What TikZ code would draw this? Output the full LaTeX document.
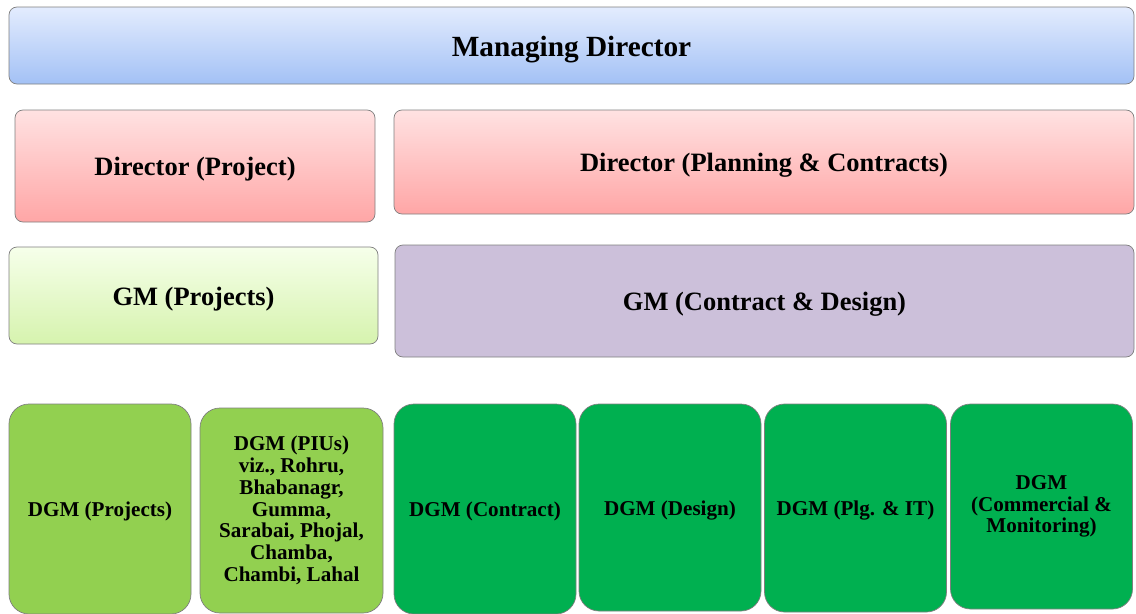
\documentclass[tikz,border=0pt]{standalone}
\usepackage{fontspec}
\setmainfont{Liberation Serif}

\definecolor{mdtop}{HTML}{E3ECFE}
\definecolor{mdbot}{HTML}{A3C1F5}
\definecolor{dirtop}{HTML}{FFE2E2}
\definecolor{dirbot}{HTML}{FFA6A6}
\definecolor{gmtop}{HTML}{F6FFEA}
\definecolor{gmbot}{HTML}{D6F3AE}
\definecolor{lavender}{HTML}{CCC0DA}
\definecolor{lightgrn}{HTML}{92D050}
\definecolor{darkgrn}{HTML}{00B050}
\definecolor{edge}{HTML}{7F7F7F}

\tikzset{
  box/.style={draw=edge, line width=0.6pt, rounded corners=0.24cm, align=center,
    inner sep=0pt, font=\bfseries\fontsize{22.6}{24}\selectfont,
    execute at begin node={\rule{0pt}{0.95em}}},
  dgm/.style={box, rounded corners=0.6cm, font=\bfseries\fontsize{18}{18.6}\selectfont},
}

\begin{document}
\begin{tikzpicture}[x=0.03cm,y=-0.03cm]
    \useasboundingbox (0,0) rectangle (1136,614);

    % top level
    \node[box, top color=mdtop, bottom color=mdbot, minimum width=1125*0.03cm, minimum height=77*0.03cm,
      font=\bfseries\fontsize{25}{27}\selectfont] (md) at (571.5,45.5) {Managing Director};

    % directors
    \node[box, top color=dirtop, bottom color=dirbot, minimum width=360*0.03cm, minimum height=112*0.03cm]
      (dirproj) at (195,166) {Director (Project)};
    \node[box, top color=dirtop, bottom color=dirbot, minimum width=740*0.03cm, minimum height=104*0.03cm]
      (dirplan) at (764,162) {Director (Planning \& Contracts)};

    % general managers
    \node[box, top color=gmtop, bottom color=gmbot, minimum width=369*0.03cm, minimum height=97*0.03cm]
      (gmproj) at (193.5,295.5) {GM (Projects)};
    \node[box, fill=lavender, minimum width=739*0.03cm, minimum height=112*0.03cm]
      (gmcd) at (764.5,301) {GM (Contract \& Design)};

    % deputy general managers
    \node[dgm, fill=lightgrn, minimum width=182*0.03cm, minimum height=210*0.03cm]
      (dgmproj) at (100,509) {DGM (Projects)};
    \node[dgm, fill=lightgrn, minimum width=183*0.03cm, minimum height=205*0.03cm]
      (dgmpiu) at (291.5,510.5) {DGM (PIUs)\\viz., Rohru,\\Bhabanagr,\\Gumma,\\Sarabai, Phojal,\\Chamba,\\Chambi, Lahal};

    \foreach \Name/\X/\Y/\H/\Label in {dgmcon/485/509/210/{DGM (Contract)},
        dgmdes/670/507.5/207/{DGM (Design)},
        dgmplg/855.5/508/208/{DGM (Plg. \& IT)},
        dgmcom/1041.5/506.5/205/{DGM\\(Commercial \&\\Monitoring)}}
    \node[dgm, fill=darkgrn, minimum width=182*0.03cm, minimum height=\H*0.03cm] (\Name) at (\X,\Y) {\Label};

\end{tikzpicture}
\end{document}
